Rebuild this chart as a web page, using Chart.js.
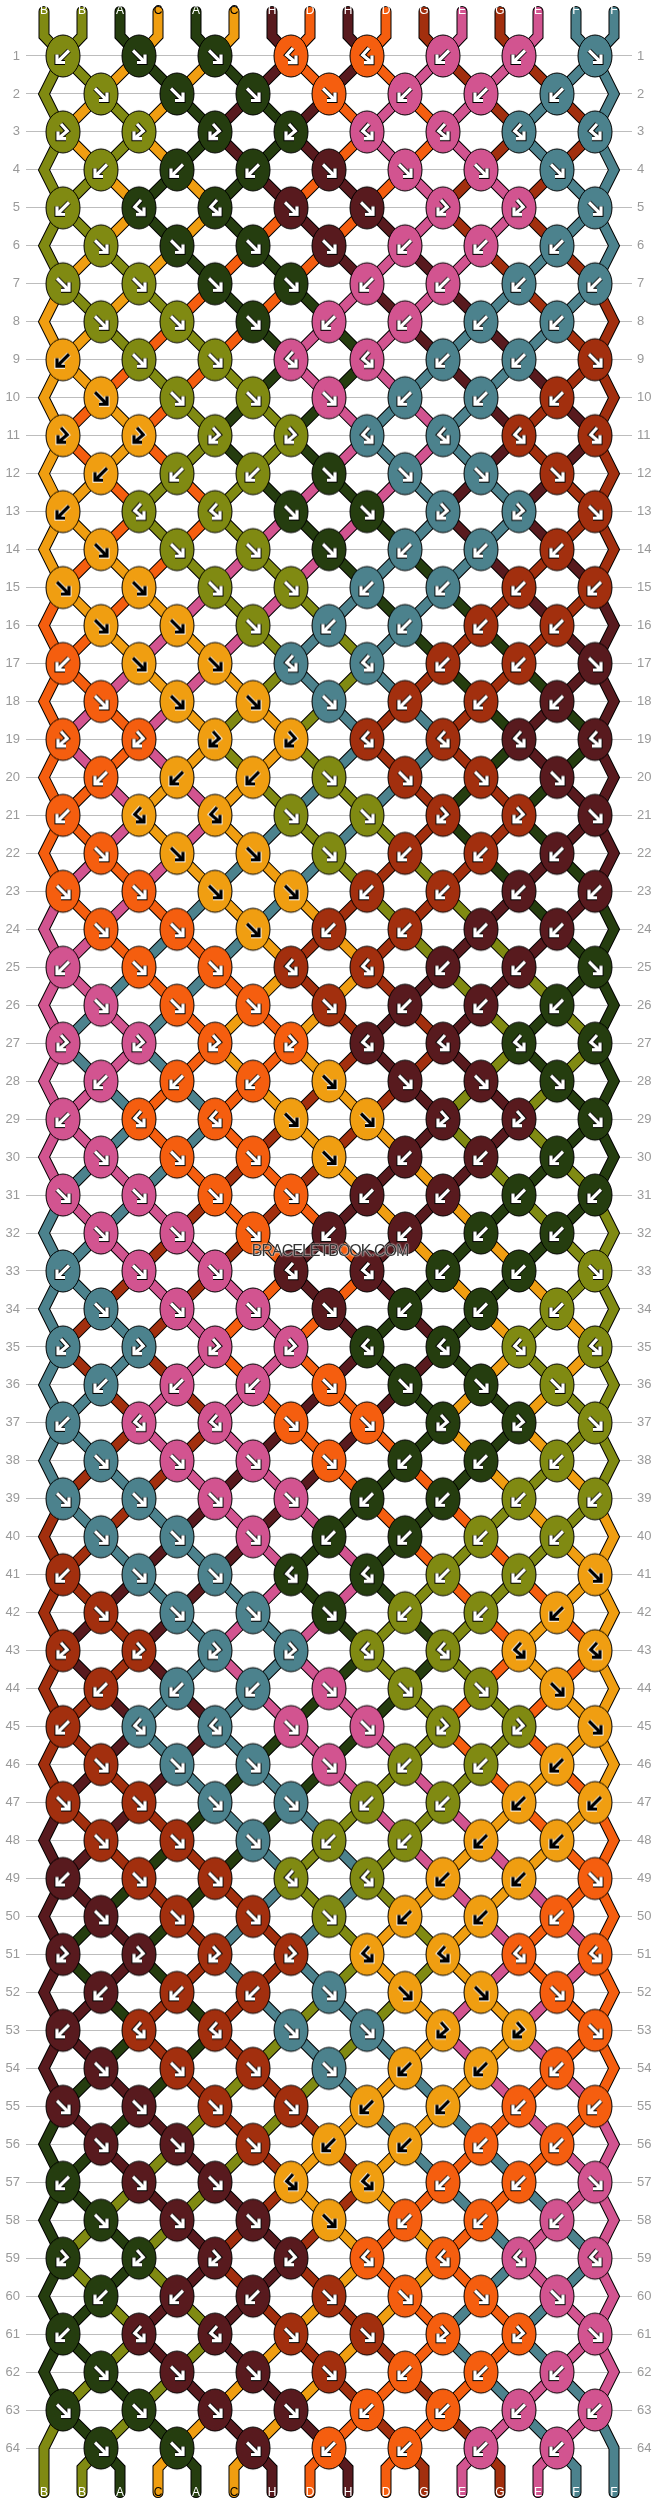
<!DOCTYPE html>
<html>
<head>
<meta charset="utf-8">
<title>Bracelet pattern</title>
<script src="https://cdn.jsdelivr.net/npm/chart.js@4"></script>
<style>
    html, body { margin: 0; padding: 0; background: #fff; }
    #wrap { position: relative; width: 658px; height: 2504px; overflow: hidden; }
    #patron { display: block; width: 658px; height: 2504px; }
    #marca {
        position: absolute; left: 230px; top: 1241px; width: 200px; text-align: center;
        font: 16px "Liberation Sans", Arial, sans-serif; letter-spacing: -1px; line-height: 20px;
        color: #333; text-shadow: 0 0 2px #fff, 0 0 1px #fff;
    }
</style>
</head>
<body>
<div id="wrap">
    <canvas id="patron" width="658" height="2504"></canvas>
    <div id="marca">BRACELETBOOK.COM</div>
</div>
<script>
// Hebras al empezar y al terminar, de izquierda a derecha
const startStrands = ['B', 'B', 'A', 'C', 'A', 'C', 'H', 'D', 'H', 'D', 'G', 'E', 'G', 'E', 'F', 'F'];
const endStrands = ['B', 'B', 'A', 'C', 'A', 'C', 'H', 'D', 'H', 'D', 'G', 'E', 'G', 'E', 'F', 'F'];

const strandColors = {
    A: '#253D0F', B: '#808A12', C: '#F09E11', D: '#F55E0F',
    E: '#D25490', F: '#4C828D', G: '#A22F0E', H: '#581A1E'
};

// Nudos por fila: L = flecha abajo-izq, R = flecha abajo-der, l / r = con gancho
const knotRows = [
    'LRRllLLR', 'RRRRLLL', 'rrrrllll', 'LLLRRRR', 'LllRRrrR', 'RRRRLLL', 'RRRRLLLL', 'RRRLLLL',
    'LRRllLLR', 'RRRRLLL', 'rrrrllll', 'LLLRRRR', 'LllRRrrR', 'RRRRLLL', 'RRRRLLLL', 'RRRLLLL',
    'LRRllLLR', 'RRRRLLL', 'rrrrllll', 'LLLRRRR', 'LllRRrrR', 'RRRRLLL', 'RRRRLLLL', 'RRRLLLL',
    'LRRllLLR', 'RRRRLLL', 'rrrrllll', 'LLLRRRR', 'LllRRrrR', 'RRRRLLL', 'RRRRLLLL', 'RRRLLLL',
    'LRRllLLR', 'RRRRLLL', 'rrrrllll', 'LLLRRRR', 'LllRRrrR', 'RRRRLLL', 'RRRRLLLL', 'RRRLLLL',
    'LRRllLLR', 'RRRRLLL', 'rrrrllll', 'LLLRRRR', 'LllRRrrR', 'RRRRLLL', 'RRRRLLLL', 'RRRLLLL',
    'LRRllLLR', 'RRRRLLL', 'rrrrllll', 'LLLRRRR', 'LllRRrrR', 'RRRRLLL', 'RRRRLLLL', 'RRRLLLL',
    'LRRllLLR', 'RRRRLLL', 'rrrrllll', 'LLLRRRR', 'LllRRrrR', 'RRRRLLL', 'RRRRLLLL', 'RRRLLLL'
];

const PX_PER_ROW = 38;
const lastRow = knotRows.length;
const lastCol = startStrands.length - 1;
const rowNumbers = knotRows.map((_, i) => i + 1);
const strandCols = startStrands.map((_, i) => i);

// Recorrer las hebras fila por fila
const order = strandCols.slice();
const paths = strandCols.map(i => [
    { x: i, y: 1 - 44.5 / PX_PER_ROW },
    { x: i, y: 1 - 20 / PX_PER_ROW }
]);
const knots = [];

knotRows.forEach((row, r) => {
    const first = r % 2;
    const y = r + 1;
    row.split('').forEach((kind, k) => {
        const a = first + 2 * k;
        const left = order[a];
        const right = order[a + 1];
        const x = a + 0.5;
        paths[left].push({ x: x, y: y });
        paths[right].push({ x: x, y: y });
        const onTop = (kind === 'R' || kind === 'r') ? left : right;
        knots.push({ x: x, y: y, kind: kind, color: startStrands[onTop] });
        if (kind === 'L' || kind === 'R') {
            order[a] = right;
            order[a + 1] = left;
        }
    });
    if (first) {
        paths[order[0]].push({ x: 0, y: y });
        paths[order[lastCol]].push({ x: lastCol, y: y });
    }
});

strandCols.forEach(i => {
    const path = paths[order[i]];
    if (i > 0 && i < lastCol) {
        path.push({ x: i, y: lastRow + 20 / PX_PER_ROW });
    }
    path.push({ x: i, y: lastRow + 44.5 / PX_PER_ROW });
});

// Dibujo de cada nudo: elipse con flecha
const arrowPaths = {
    R: [[[-6, -5.5], [6, 6.5]], [[6, -1.5], [6, 6.5], [-2, 6.5]]],
    r: [[[-2, -8], [4.3, -1], [-5, 6.7]], [[-5, -0.5], [-5, 6.7], [3, 6.7]]]
};

function crearSprite(colorKey, kind) {
    const c = document.createElement('canvas');
    c.width = 38;
    c.height = 46;
    const g = c.getContext('2d');
    g.beginPath();
    g.ellipse(19, 23, 17, 21, 0, 0, Math.PI * 2);
    g.fillStyle = strandColors[colorKey];
    g.fill();
    g.lineWidth = 1;
    g.strokeStyle = '#000';
    g.stroke();

    const flip = kind === 'L' || kind === 'l';
    const shape = arrowPaths[kind.toLowerCase() === 'r' && kind === 'R' || kind === 'L' ? 'R' : 'r'];
    g.translate(19, 23);
    if (flip) g.scale(-1, 1);
    // En el color C la flecha va en negro
    const stroke = (color, width) => {
        g.strokeStyle = color;
        g.lineWidth = width;
        g.lineJoin = 'miter';
        shape.forEach(line => {
            g.beginPath();
            line.forEach((p, i) => i ? g.lineTo(p[0], p[1]) : g.moveTo(p[0], p[1]));
            g.stroke();
        });
    };
    stroke(colorKey === 'C' ? '#fff' : '#000', 5);
    stroke(colorKey === 'C' ? '#000' : '#fff', 3.2);
    return c;
}

const sprites = {};
knots.forEach(k => {
    const key = k.color + k.kind;
    if (!sprites[key]) sprites[key] = crearSprite(k.color, k.kind);
});

const datasets = [{
    label: 'Nudos',
    data: knots,
    order: 0,
    showLine: false,
    pointRadius: 18,
    pointStyle: ctx => sprites[ctx.raw.color + ctx.raw.kind],
    clip: false
}];

startStrands.forEach((name, i) => {
    const common = {
        data: paths[i],
        showLine: true,
        pointRadius: 0,
        borderCapStyle: 'round',
        borderJoinStyle: 'miter',
        tension: 0,
        clip: false
    };
    datasets.push(Object.assign({ label: name, order: 1, borderColor: strandColors[name], borderWidth: 9 }, common));
    datasets.push(Object.assign({ label: name + ' borde', order: 2, borderColor: '#000', borderWidth: 11 }, common));
});

const colRange = { min: -18 / PX_PER_ROW, max: lastCol + 18 / PX_PER_ROW };
const rowRange = { min: 1 - 37 / PX_PER_ROW, max: lastRow + 37 / PX_PER_ROW };

function ejeFilas(position, drawGrid) {
    return Object.assign({
        type: 'linear',
        position: position,
        reverse: true,
        border: { display: false },
        grid: { display: drawGrid, color: '#BDBDBD', lineWidth: 1, drawTicks: false },
        ticks: {
            color: '#999',
            padding: position === 'left' ? 6 : 5,
            font: { family: '"Liberation Sans", Arial, sans-serif', size: 13 },
            autoSkip: false,
            callback: value => String(value)
        },
        afterBuildTicks: axis => { axis.ticks = rowNumbers.map(v => ({ value: v })); },
        afterFit: axis => { axis.width = 26; }
    }, rowRange);
}

function ejeHebras(position, labels, gap) {
    return Object.assign({
        type: 'linear',
        position: position,
        border: { display: false },
        grid: { display: false, drawTicks: false },
        ticks: {
            z: 1,
            padding: gap,
            maxRotation: 0,
            autoSkip: false,
            font: { family: '"Liberation Sans", Arial, sans-serif', size: 12 },
            color: ctx => labels[ctx.index] === 'C' ? '#000' : '#fff',
            callback: (value, index) => labels[index]
        },
        afterBuildTicks: axis => { axis.ticks = strandCols.map(v => ({ value: v })); },
        afterFit: axis => { axis.height = 18; }
    }, colRange);
}

new Chart(document.getElementById('patron').getContext('2d'), {
    type: 'scatter',
    data: { datasets: datasets },
    options: {
        responsive: false,
        devicePixelRatio: 1,
        animation: false,
        events: [],
        layout: { padding: 0 },
        plugins: { legend: { display: false }, tooltip: { enabled: false } },
        scales: {
            x: ejeHebras('bottom', endStrands, 0),
            xTop: ejeHebras('top', startStrands, 1),
            y: ejeFilas('left', true),
            yRight: ejeFilas('right', false)
        }
    }
});
</script>
</body>
</html>
